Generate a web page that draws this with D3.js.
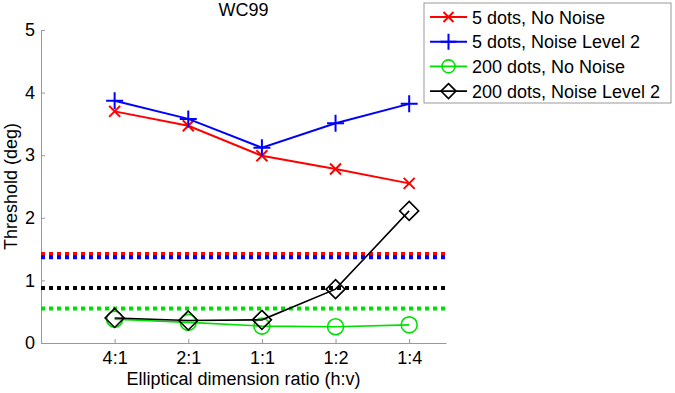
<!DOCTYPE html>
<html>
<head>
<meta charset="utf-8">
<script src="https://cdn.jsdelivr.net/npm/d3@7"></script>
<style>
  body { margin: 0; background: #fff; }
  text { font-family: "Liberation Sans", Arial, sans-serif; }
</style>
</head>
<body>
<div id="chart"></div>
<script>
// categories on the x axis
const ratios = ["4:1", "2:1", "1:1", "1:2", "1:4"];
const yTicks = [0, 1, 2, 3, 4, 5];

// series values (threshold in deg)
const fiveNoNoise = [3.70, 3.47, 2.99, 2.78, 2.55];
const fiveNoise2 = [3.87, 3.58, 3.12, 3.51, 3.82];
const twoHundredNoNoise = [0.38, 0.33, 0.27, 0.26, 0.29];
const twoHundredNoise2 = [0.40, 0.36, 0.37, 0.86, 2.11];

// reference levels drawn as dotted lines
const refLevels = [1.42, 1.37, 0.88, 0.55];

const seriesNames = ["5 dots, No Noise", "5 dots, Noise Level 2", "200 dots, No Noise", "200 dots, Noise Level 2"];

const W = 675, H = 393;
const margin = { top: 30, right: 229, bottom: 50, left: 41 };
const width = W - margin.left - margin.right;
const height = H - margin.top - margin.bottom;
const fs = "18px";

const svg = d3.select("#chart").append("svg")
    .attr("width", W)
    .attr("height", H);

const g = svg.append("g")
    .attr("transform", `translate(${margin.left}, ${margin.top})`);

// Escalas
const x = d3.scaleLinear().domain([0, 5.5]).range([0, width]);
const y = d3.scaleLinear().domain([0, 5]).range([height, 0]);

const series = [
    { name: seriesNames[0], values: fiveNoNoise, color: "#ff0000", marker: "x", lw: 2 },
    { name: seriesNames[1], values: fiveNoise2, color: "#0000ff", marker: "plus", lw: 2 },
    { name: seriesNames[2], values: twoHundredNoNoise, color: "#00e000", marker: "circle", lw: 1.6 },
    { name: seriesNames[3], values: twoHundredNoise2, color: "#000000", marker: "diamond", lw: 1.6 }
];
const refColors = ["#ff0000", "#0000ff", "#000000", "#00e000"];

// Ejes
const xAxis = g.append("g")
    .attr("transform", `translate(0, ${height})`)
    .call(d3.axisBottom(x)
        .tickValues(ratios.map((d, i) => i + 1))
        .tickFormat((d, i) => ratios[i])
        .tickSizeInner(-4)
        .tickSizeOuter(0)
        .tickPadding(8));
xAxis.select(".domain").attr("stroke", "#999");
xAxis.selectAll(".tick line").attr("stroke", "#999");
xAxis.selectAll("text").style("font-size", fs).attr("fill", "#000");

const yAxis = g.append("g")
    .call(d3.axisLeft(y)
        .tickValues(yTicks)
        .tickFormat(d3.format("d"))
        .tickSizeInner(-4)
        .tickSizeOuter(0)
        .tickPadding(6));
yAxis.select(".domain").attr("stroke", "#999");
yAxis.selectAll(".tick line").attr("stroke", "#999");
yAxis.selectAll("text").style("font-size", fs).attr("fill", "#000");

// Líneas de referencia punteadas
g.selectAll(".ref")
    .data(refLevels)
    .enter().append("line")
    .attr("x1", 0)
    .attr("x2", width)
    .attr("y1", d => y(d))
    .attr("y2", d => y(d))
    .attr("stroke", (d, i) => refColors[i])
    .attr("stroke-width", 4)
    .attr("stroke-dasharray", "4,4");

// markers
function drawMarker(sel, type, color, s) {
    if (type === "x") {
        sel.append("path")
            .attr("d", `M${-s},${-s}L${s},${s}M${-s},${s}L${s},${-s}`)
            .attr("stroke", color).attr("stroke-width", 2).attr("fill", "none");
    } else if (type === "plus") {
        sel.append("path")
            .attr("d", `M${-s},0L${s},0M0,${-s}L0,${s}`)
            .attr("stroke", color).attr("stroke-width", 2).attr("fill", "none");
    } else if (type === "circle") {
        sel.append("circle").attr("r", s)
            .attr("stroke", color).attr("stroke-width", 1.6).attr("fill", "none");
    } else if (type === "diamond") {
        sel.append("path")
            .attr("d", `M0,${-s}L${s},0L0,${s}L${-s},0Z`)
            .attr("stroke", color).attr("stroke-width", 1.6).attr("fill", "none");
    }
}
const markerSize = { x: 5.5, plus: 8.5, circle: 8, diamond: 9.5 };

const line = d3.line()
    .x((d, i) => x(i + 1))
    .y(d => y(d));

const order = [2, 3, 0, 1];
order.forEach(k => {
    const s = series[k];
    g.append("path")
        .datum(s.values)
        .attr("fill", "none")
        .attr("stroke", s.color)
        .attr("stroke-width", s.lw)
        .attr("d", line);
    s.values.forEach((v, i) => {
        const m = g.append("g").attr("transform", `translate(${x(i + 1)}, ${y(v)})`);
        drawMarker(m, s.marker, s.color, markerSize[s.marker]);
    });
});

// Título
svg.append("text")
    .attr("x", margin.left + width / 2)
    .attr("y", 16)
    .attr("text-anchor", "middle")
    .style("font-size", fs)
    .text("WC99");

// Etiquetas de los ejes
svg.append("text")
    .attr("x", margin.left + width / 2)
    .attr("y", 385)
    .attr("text-anchor", "middle")
    .style("font-size", fs)
    .text("Elliptical dimension ratio (h:v)");

svg.append("text")
    .attr("transform", `translate(17, ${margin.top + height / 2}) rotate(-90)`)
    .attr("text-anchor", "middle")
    .style("font-size", fs)
    .text("Threshold (deg)");

// Leyenda
const legend = svg.append("g").attr("transform", "translate(424, 3)");
legend.append("rect")
    .attr("width", 247)
    .attr("height", 100)
    .attr("fill", "#fff")
    .attr("stroke", "#999");

const legendMarker = { x: 5, plus: 8, circle: 6.5, diamond: 7.5 };
series.forEach((s, i) => {
    const row = legend.append("g").attr("transform", `translate(0, ${14 + i * 24.7})`);
    row.append("line")
        .attr("x1", 6).attr("x2", 43)
        .attr("stroke", s.color).attr("stroke-width", s.lw);
    const m = row.append("g").attr("transform", "translate(24.5, 0)");
    drawMarker(m, s.marker, s.color, legendMarker[s.marker]);
    row.append("text")
        .attr("x", 48)
        .attr("y", 6.5)
        .style("font-size", fs)
        .text(s.name);
});
</script>
</body>
</html>
